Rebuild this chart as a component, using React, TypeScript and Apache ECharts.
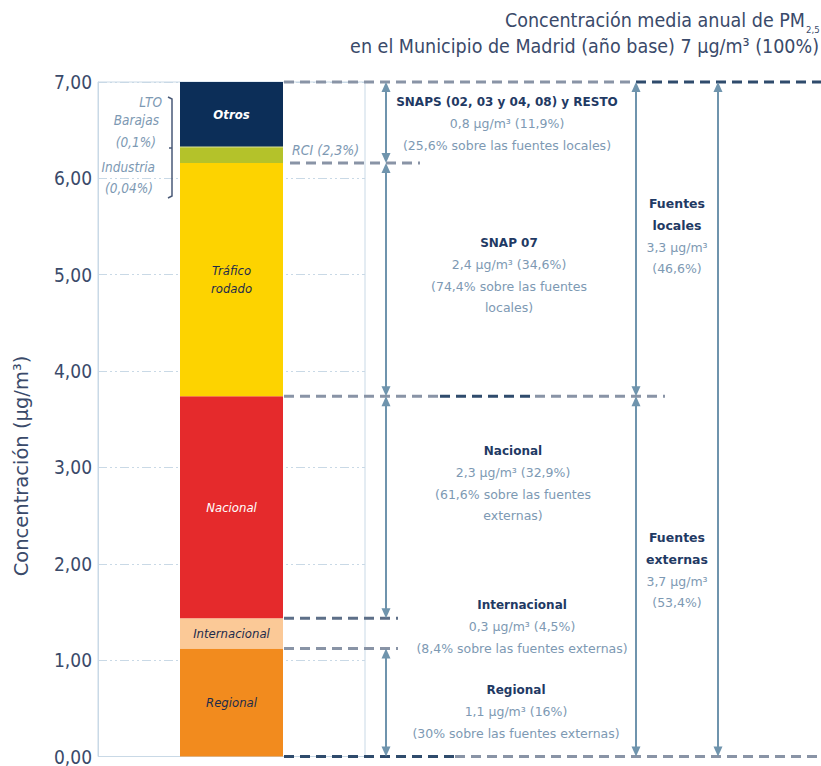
import React, { useEffect, useRef } from 'react';
import * as echarts from 'echarts';

// ---------- data ----------
const categories = ['PM2,5 Madrid'];
const sourceNames = ['Regional', 'Internacional', 'Nacional', 'Tráfico rodado', 'RCI', 'Industria', 'LTO Barajas', 'Otros'];
const sourceValues = [1.12, 0.315, 2.303, 2.422, 0.161, 0.003, 0.007, 0.669];
const barLabelTexts = ['Regional', 'Internacional', 'Nacional', 'Tráfico\nrodado', '', '', '', 'Otros'];
const yTickValues = [0, 1, 2, 3, 4, 5, 6, 7];
const yTickLabels = ['0,00', '1,00', '2,00', '3,00', '4,00', '5,00', '6,00', '7,00'];
const titleLines = ['Concentración media anual de PM', 'en el Municipio de Madrid (año base) 7 µg/m³ (100%)'];
const titleSub = '2,5';
const yAxisName = 'Concentración (µg/m³)';
const noteTitles = ['SNAPS (02, 03 y 04, 08) y RESTO', 'SNAP 07', 'Nacional', 'Internacional', 'Regional'];
const noteDetails = [
  ['0,8 µg/m³ (11,9%)', '(25,6% sobre las fuentes locales)'],
  ['2,4 µg/m³ (34,6%)', '(74,4% sobre las fuentes', 'locales)'],
  ['2,3 µg/m³ (32,9%)', '(61,6% sobre las fuentes', 'externas)'],
  ['0,3 µg/m³ (4,5%)', '(8,4% sobre las fuentes externas)'],
  ['1,1 µg/m³ (16%)', '(30% sobre las fuentes externas)'],
];
const groupTitles = [['Fuentes', 'locales'], ['Fuentes', 'externas']];
const groupDetails = [['3,3 µg/m³', '(46,6%)'], ['3,7 µg/m³', '(53,4%)']];
const leftNoteLines = ['LTO', 'Barajas', '(0,1%)', 'Industria', '(0,04%)'];
const rciNote = 'RCI (2,3%)';

// ---------- styles ----------
const NARROW = "'Liberation Sans Narrow', 'DejaVu Sans Condensed', Roboto, sans-serif";
const LIGHT = "'DejaVu Sans', 'Liberation Sans', sans-serif";
const VERD = "'DejaVu Sans', Verdana, sans-serif";
const sourceColors = ['#f28b1e', '#fbc997', '#e52a2c', '#fdd300', '#b4c22a', '#b4c22a', '#b4c22a', '#0c2e58'];
const labelColors = ['#1d2b4b', '#1d2b4b', '#ffffff', '#1d2b4b', '#ffffff', '#ffffff', '#ffffff', '#ffffff'];
const TEXT_DARK = '#3a4a6a';
const NOTE_TITLE = '#1f3a64';
const NOTE_TEXT = '#7d99b3';
const ARROW = '#6f94ad';
const DASH_GREY = '#8994a6';
const DASH_DARK = '#2f4b6c';
const GRID = '#c9d9e6';

export default function App() {
  const ref = useRef<HTMLDivElement>(null);
  useEffect(() => {
    const chart = echarts.init(ref.current as HTMLDivElement, undefined, { renderer: 'svg' });
    const series = sourceNames.map((name, i) => ({
      name,
      type: 'bar',
      stack: 'total',
      barWidth: 103,
      data: [sourceValues[i]],
      itemStyle: { color: sourceColors[i] },
      emphasis: { disabled: true },
      label: {
        show: barLabelTexts[i] !== '',
        position: 'inside',
        formatter: barLabelTexts[i],
        color: labelColors[i],
        fontStyle: 'italic',
        fontWeight: i === 7 ? 'bold' : 'normal',
        fontFamily: NARROW,
        fontSize: 13,
        lineHeight: 18,
      },
    }));
    chart.setOption({
      animation: false,
      grid: { left: 98, right: 456, top: 82, bottom: 7, show: true, borderColor: GRID, borderWidth: 1 },
      xAxis: { type: 'category', data: categories, show: false },
      yAxis: {
        type: 'value',
        min: 0,
        max: 7,
        interval: 1,
        axisLine: { show: true, lineStyle: { color: GRID } },
        axisTick: { show: false },
        axisLabel: {
          formatter: (v: number) => yTickLabels[yTickValues.indexOf(v)],
          color: TEXT_DARK,
          fontSize: 19,
          fontFamily: NARROW,
          margin: 6,
        },
        splitLine: { lineStyle: { color: GRID, type: [9, 3, 2, 3, 2, 3] } },
      },
      series,
    });

    const py = (v: number) => chart.convertToPixel({ yAxisIndex: 0 }, v) as number;
    const cum: number[] = [];
    sourceValues.reduce((a, v) => { cum.push(a + v); return a + v; }, 0);
    const yZero = py(0);
    const yReg = py(cum[0]);
    const yInt = py(cum[1]);
    const yNac = py(cum[2]);
    const yTra = py(cum[3]);
    const yTop = py(cum[cum.length - 1]);

    const g: any[] = [];
    const txt = (x: number, y: number, text: string, font: string, fill: string, align = 'center', extra: any = {}) => {
      g.push({
        type: 'text', x, y, ...extra, silent: true,
        style: { text, font, fill, align, textAlign: align, verticalAlign: 'middle', textVerticalAlign: 'middle' },
      });
    };
    const dash = (x1: number, x2: number, y: number, color: string) => {
      g.push({ type: 'line', silent: true, shape: { x1, y1: y, x2, y2: y }, style: { stroke: color, lineWidth: 3, lineDash: [10, 6] } });
    };
    const arrow = (x: number, y1: number, y2: number) => {
      g.push({ type: 'line', silent: true, shape: { x1: x, y1: y1 + 3, x2: x, y2: y2 - 3 }, style: { stroke: ARROW, lineWidth: 2 } });
      g.push({ type: 'polygon', silent: true, shape: { points: [[x, y1], [x - 4.5, y1 + 10], [x + 4.5, y1 + 10]] }, style: { fill: ARROW } });
      g.push({ type: 'polygon', silent: true, shape: { points: [[x, y2], [x - 4.5, y2 - 10], [x + 4.5, y2 - 10]] }, style: { fill: ARROW } });
    };

    // title
    txt(805, 20, titleLines[0], `19.5px ${NARROW}`, TEXT_DARK, 'right');
    txt(806, 29, titleSub, `9.5px ${NARROW}`, TEXT_DARK, 'left');
    txt(819, 46, titleLines[1], `19.5px ${NARROW}`, TEXT_DARK, 'right');
    // y axis name
    txt(21, 466, yAxisName, `19.5px ${LIGHT}`, TEXT_DARK, 'center', { rotation: Math.PI / 2 });

    // dashed boundary lines
    dash(284, 636, yTop, DASH_GREY);
    dash(636, 821, yTop, DASH_DARK);
    dash(290, 420, yTra, DASH_GREY);
    dash(284, 440, yNac, DASH_GREY);
    dash(440, 535, yNac, DASH_DARK);
    dash(535, 665, yNac, DASH_GREY);
    dash(284, 398, yInt, '#5d6f88');
    dash(284, 398, yReg, DASH_GREY);
    dash(284, 455, yZero, DASH_DARK);
    dash(455, 821, yZero, DASH_GREY);

    // arrows
    arrow(386, yTop, yTra);
    arrow(386, yTra, yNac);
    arrow(386, yNac, yInt);
    arrow(386, yReg, yZero);
    arrow(636, yTop, yNac);
    arrow(636, yNac, yZero);
    arrow(718, yTop, yZero);

    // notes
    const noteX = [507, 509, 513, 522, 516];
    const noteY = [102, 243, 451, 605, 690];
    noteTitles.forEach((t, i) => {
      txt(noteX[i], noteY[i], t, `bold 12px ${VERD}`, NOTE_TITLE);
      noteDetails[i].forEach((d, j) => txt(noteX[i], noteY[i] + 21.5 * (j + 1), d, `12.5px ${VERD}`, NOTE_TEXT));
    });
    const groupY = [203, 537];
    groupTitles.forEach((lines, i) => {
      lines.forEach((t, j) => txt(677, groupY[i] + 22 * j, t, `bold 12.5px ${VERD}`, NOTE_TITLE));
      groupDetails[i].forEach((d, j) => txt(677, groupY[i] + 44 + 21.5 * j, d, `12.5px ${VERD}`, NOTE_TEXT));
    });

    // left notes
    const leftY = [102, 120, 142, 167, 188];
    const leftX = [162, 159, 156, 155, 153];
    leftNoteLines.forEach((t, i) => txt(leftX[i], leftY[i], t, `italic 13.5px ${NARROW}`, NOTE_TEXT, 'right'));
    g.push({
      type: 'polyline', silent: true,
      shape: { points: [[168, 97], [172, 99], [172, 196], [168, 198]] },
      style: { stroke: '#4a5a78', lineWidth: 1.5, fill: null },
    });
    g.push({ type: 'line', silent: true, shape: { x1: 172, y1: 148, x2: 169, y2: 148 }, style: { stroke: '#4a5a78', lineWidth: 1.5 } });
    txt(292, yTra - 13, rciNote, `italic 14px ${NARROW}`, NOTE_TEXT, 'left');

    chart.setOption({ graphic: g });
    return () => chart.dispose();
  }, []);
  return <div ref={ref} style={{ position: 'fixed', left: 0, top: 0, width: 821, height: 766, background: '#ffffff' }} />;
}
